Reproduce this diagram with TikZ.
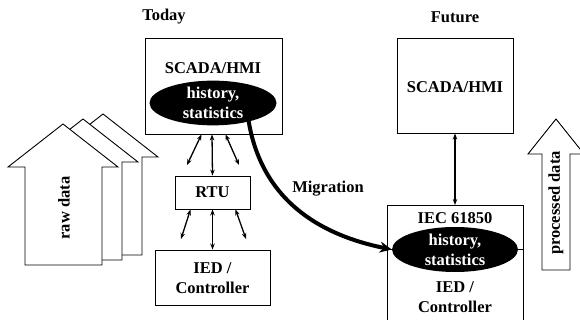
\documentclass[tikz,border=0pt]{standalone}
\usepackage{fontspec}
\setmainfont{Liberation Serif}
\usetikzlibrary{shapes.geometric,arrows.meta}
\begin{document}
\begin{tikzpicture}[x=1pt,y=-1pt,
  txt/.style={font=\fontsize{16.5}{20.5}\selectfont\bfseries, inner sep=0pt, align=center},
  box/.style={draw, line width=0.9pt, inner sep=0pt, fill=white},
  oval/.style={ellipse, fill=black, text=white, inner sep=0pt, font=\fontsize{16.5}{20}\selectfont\bfseries, align=center},
  link/.style={line width=1.3pt, {Stealth[length=6pt,width=4.5pt]}-{Stealth[length=6pt,width=4.5pt]}},
  bigarrow/.style={draw, line width=0.9pt, fill=white, line join=miter}]
\useasboundingbox (0,0) rectangle (580,320);
% raw data arrows
\foreach \dx/\dy in {40/-10,20/-5,0/0}{
  \draw[bigarrow, shift={(\dx,\dy)}] (25,265) -- (25,167) -- (8,167) -- (63,124) -- (118,167) -- (102,167) -- (102,265) -- cycle;
}
\node[txt, rotate=90] (raw) at (64,208) {raw data};
% processed data arrow
\draw[bigarrow] (542,270) -- (542,154) -- (528,154) -- (556,119) -- (584,154) -- (570,154) -- (570,270) -- cycle;
\node[txt, rotate=90] (proc) at (556,203) {processed data};
% titles
\node[txt] (today) at (164,17) {Today};
\node[txt] (future) at (455,17) {Future};
% today boxes
\node[box, minimum width=137pt, minimum height=96pt] (scadaT) at (213.5,86) {};
\node[txt] (scadaTt) at (213,68) {SCADA/HMI};
\node[oval, minimum width=127pt, minimum height=43pt] (histT) at (213,103) {history,\\statistics};
\node[box, minimum width=75pt, minimum height=33pt] (rtu) at (212.5,192.5) {};
\node[txt] at (rtu.center) {RTU};
\node[box, minimum width=115pt, minimum height=55pt] (iedT) at (212.5,277.5) {};
\node[txt] at (212.5,278) {IED /\\Controller};
% today links
\coordinate (a1) at (187,165);
\coordinate (a2) at (239,165);
\coordinate (b1) at (181,239);
\coordinate (b2) at (246,239);
\draw[link] ([xshift=-12pt]scadaT.south) -- (a1);
\draw[link] ([xshift=-1.5pt]scadaT.south) -- (rtu.north);
\draw[link] ([xshift=12pt]scadaT.south) -- (a2);
\draw[link] ([xshift=-22pt]rtu.south) -- (b1);
\draw[link] (rtu.south) -- (iedT.north);
\draw[link] ([xshift=23pt]rtu.south) -- (b2);
% future
\node[box, minimum width=116pt, minimum height=95pt] (scadaF) at (455,85.5) {};
\node[txt] at (455,87) {SCADA/HMI};
\draw[box] (387,205) rectangle (523,330);
\coordinate (iecTop) at (455,205);
\draw[line width=0.9pt] (387,249) -- (523,249);
\node[txt] (iec) at (455,218) {IEC 61850};
\node[oval, minimum width=126pt, minimum height=45pt] (histF) at (455,249.5) {history,\\statistics};
\node[txt] at (455,297) {IED /\\Controller};
\draw[link] (scadaF.south) -- (iecTop);
% migration
\coordinate (mstart) at (248,117);
\draw[line width=4pt, -{Stealth[length=12pt,width=11pt]}] (mstart) .. controls (260,200) and (320,235) .. (histF.west);
\node[txt] (mig) at (328,189) {Migration};
\end{tikzpicture}
\end{document}
